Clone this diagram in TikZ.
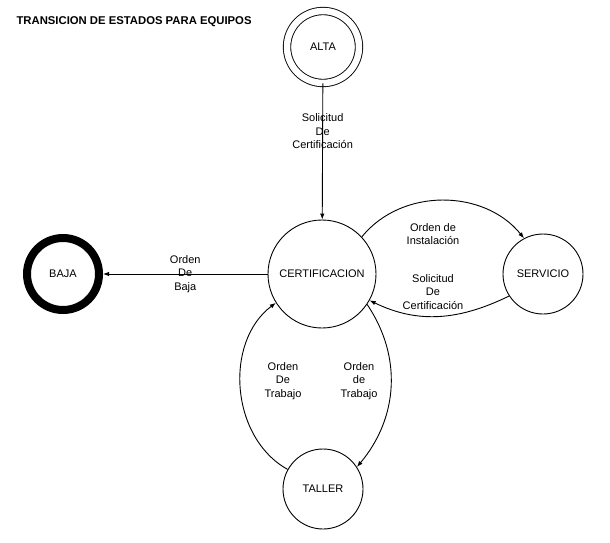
\documentclass[tikz,border=0pt]{standalone}
\usepackage{fontspec}
\setmainfont{Liberation Sans}
\usepackage{tikz}
\usetikzlibrary{positioning}
\usetikzlibrary{arrows.meta}

\begin{document}
\begin{tikzpicture}[x=1pt,y=1pt,
	every node/.style={font=\fontsize{11}{13.5}\selectfont},
	estado/.style={circle,draw,line width=0.9pt,inner sep=0pt,minimum size=80pt},
	etiqueta/.style={align=center,inner sep=1pt},
	flecha/.style={line width=0.9pt,-{Latex[length=6pt,width=4.5pt]}}]
	%% marco de la figura
	\useasboundingbox (0,0) rectangle (610,542);

	\def\filaY{268} % altura de la fila central

	% titulo
	\node[anchor=west,font=\fontsize{11.3}{13}\selectfont\bfseries] (titulo) at (13,520) {TRANSICION DE ESTADOS PARA EQUIPOS};

	% estados
	\node[estado,double,double distance=6.5pt,minimum size=72pt] (alta) at (323,495) {ALTA};
	\node[estado,minimum size=108pt] (certificacion) at (322,\filaY) {CERTIFICACION};
	\node[estado,line width=8pt,minimum size=72pt] (baja) at (63,\filaY) {BAJA};
	\node[estado] (servicio) at (543,\filaY) {SERVICIO};
	\node[estado] (taller) at (323,53) {TALLER};

	% transiciones
	\draw[flecha] (alta) -- node[etiqueta,pos=0.35] (solAlta) {Solicitud\\De\\Certificación} (certificacion);
	\draw[flecha] (certificacion) -- node[etiqueta] (ordBaja) {Orden\\De\\Baja} (baja);
	\draw[flecha] (certificacion.43) to[out=51,in=129] (servicio.118);
	\draw[flecha] (servicio.213) to[out=206,in=-26] (certificacion.-29);
	\draw[flecha] (certificacion.-34) to[out=-56,in=50] (taller.33);
	\draw[flecha] (taller.151) to[out=151,in=217] (certificacion.212);

	% etiquetas de las curvas
	\node[etiqueta] (ordInst) at (433,308) {Orden de\\Instalación};
	\node[etiqueta] (solServ) at (433,250) {Solicitud\\De\\Certificación};
	\node[etiqueta] (ordTrabA) at (283,161) {Orden\\De\\Trabajo};
	\node[etiqueta] (ordTrabB) at (359,161) {Orden\\de\\Trabajo};
\end{tikzpicture}
\end{document}
